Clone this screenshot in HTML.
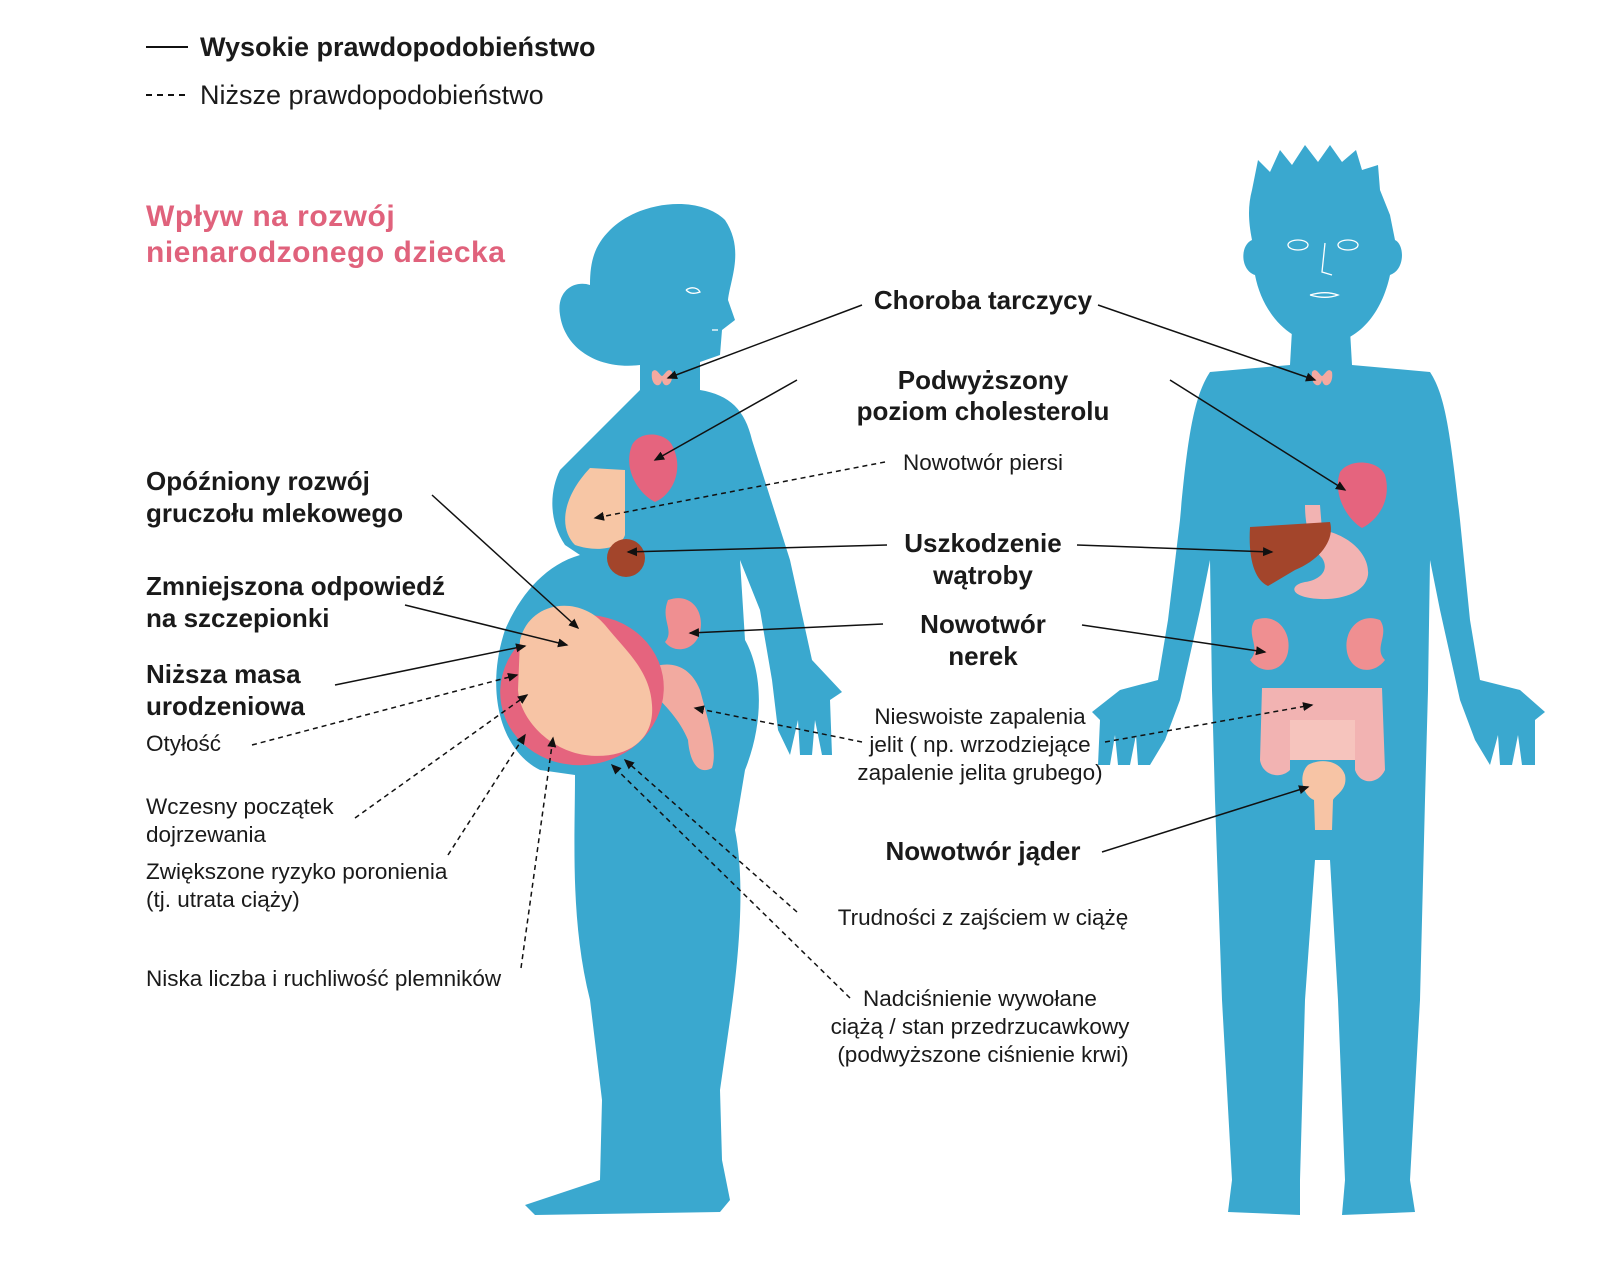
<!DOCTYPE html>
<html><head><meta charset="utf-8"><style>
html,body{margin:0;padding:0;background:#fff;}
svg{display:block;font-family:"Liberation Sans",sans-serif;}
.b{font-weight:bold;font-size:26px;fill:#1a1a1a;}
.n{font-size:22.5px;fill:#1a1a1a;}
.s{stroke:#111;stroke-width:1.5;fill:none;}
.d{stroke:#111;stroke-width:1.5;fill:none;stroke-dasharray:5 4;}
</style></head><body>
<svg width="1600" height="1274" viewBox="0 0 1600 1274" xmlns="http://www.w3.org/2000/svg">
<defs><marker id="a" markerWidth="8" markerHeight="8" refX="6" refY="4" orient="auto"><path d="M0,1 L7,4 L0,7 z" fill="#111"/></marker></defs>
<line x1="146" y1="47" x2="188" y2="47" stroke="#111" stroke-width="2"/>
<text x="200" y="56" class="b" style="font-size:27px">Wysokie prawdopodobieństwo</text>
<line x1="146" y1="95" x2="188" y2="95" stroke="#111" stroke-width="2" stroke-dasharray="6 5"/>
<text x="200" y="104" class="n" style="font-size:27px">Niższe prawdopodobieństwo</text>
<text x="146" y="226" style="font-size:30px;font-weight:bold;fill:#e0627c;letter-spacing:0.5px">Wpływ na rozwój</text>
<text x="146" y="262" style="font-size:30px;font-weight:bold;fill:#e0627c;letter-spacing:0.5px">nienarodzonego dziecka</text>

<g fill="#3aa8cf">
<path d="M610,230 C640,200 700,195 725,220 C745,250 730,280 728,300 L735,320 L722,330 L720,355 L700,362 L700,395 L640,395 L640,365 C600,370 565,350 560,315 C556,290 575,280 590,285 C590,260 595,245 610,230 Z"/>
<path d="M640,390 L700,390 C730,395 745,410 752,440 L790,560 L812,660 L842,692 L830,700 L832,755 L822,755 L815,720 L812,755 L800,755 L798,720 L790,755 L778,730 L772,680 L760,610 L740,560 L745,640 C762,670 765,720 745,770 L735,830 C745,880 740,950 730,1020 L720,1090 L722,1160 L730,1200 L720,1212 L535,1215 L525,1205 L600,1180 L602,1100 L590,1000 C570,920 575,840 575,775 L540,770 C500,750 485,690 505,630 C520,595 545,565 580,555 L565,545 C548,520 550,490 560,470 L600,430 Z"/>
</g>
<path d="M590,468 L625,470 L625,535 C620,550 595,552 575,545 C560,530 560,500 590,468 Z" fill="#f7c6a5"/>
<path d="M652,372 C650,385 660,390 662,380 C664,390 674,385 672,372 C668,366 664,376 662,376 C660,376 656,366 652,372Z" fill="#f4a9a0"/>
<path d="M632,445 C640,430 665,432 672,445 C685,470 672,495 655,502 C640,495 622,470 632,445Z" fill="#e5647e"/>
<circle cx="626" cy="558" r="19" fill="#a3452b"/>
<path d="M668,600 C690,592 705,610 700,632 C696,650 675,655 665,642 C675,630 660,620 668,600Z" fill="#ef8f91"/>
<path d="M650,668 C670,660 690,665 700,690 C708,720 718,750 712,768 C700,775 690,765 688,740 C680,720 665,705 650,690 Z" fill="#f2aaa0"/>
<ellipse cx="582" cy="690" rx="82" ry="75" transform="rotate(-10 582 690)" fill="#e5647e"/>
<path d="M520,640 C530,600 580,595 605,625 C625,650 650,670 652,705 C655,745 620,760 585,755 C550,750 520,720 518,690 Z" fill="#f7c4a5"/>
<circle cx="588" cy="622" r="9" fill="#f7c4a5"/>

<g fill="#3aa8cf">
<path d="M1252,190 L1258,160 L1270,172 L1280,150 L1292,165 L1305,145 L1318,162 L1330,145 L1342,162 L1356,150 L1362,170 L1378,165 L1380,190 L1390,215 L1395,240 C1405,245 1405,270 1390,275 C1382,312 1360,342 1323,345 C1288,342 1262,312 1255,275 C1240,270 1240,245 1252,240 C1248,220 1248,205 1252,190 Z"/>
<path d="M1292,330 L1350,330 L1352,365 L1430,372 C1445,395 1450,430 1460,520 L1470,620 L1480,680 L1520,690 L1545,712 L1535,720 L1535,765 L1522,765 L1518,735 L1512,765 L1500,765 L1498,735 L1490,765 L1475,740 L1460,700 L1440,610 L1430,560 L1428,690 L1425,800 L1420,1000 L1410,1180 L1415,1212 L1342,1215 L1345,1180 L1338,1000 L1330,860 L1315,860 L1305,1000 L1300,1180 L1300,1215 L1228,1212 L1232,1180 L1222,1000 L1215,800 L1212,690 L1210,560 L1200,610 L1180,700 L1165,740 L1150,765 L1138,765 L1136,735 L1130,765 L1118,765 L1115,735 L1110,765 L1098,765 L1100,720 L1092,712 L1120,690 L1158,680 L1168,620 L1180,520 C1188,430 1195,395 1210,372 L1290,365 Z"/>
</g>
<g stroke="#fff" stroke-width="1.3" fill="none">
<ellipse cx="1298" cy="245" rx="10" ry="5"/><ellipse cx="1348" cy="245" rx="10" ry="5"/>
<path d="M1325,243 L1322,272 L1332,275"/><path d="M1310,295 C1320,292 1330,292 1338,295 C1330,298 1320,298 1310,295"/>
<path d="M686,290 C692,286 698,288 700,292 C694,294 690,294 686,290"/><path d="M712,330 L718,330"/>
</g>
<path d="M1312,372 C1310,385 1320,390 1322,380 C1324,390 1334,385 1332,372 C1328,366 1324,376 1322,376 C1320,376 1316,366 1312,372Z" fill="#f4a9a0"/>
<path d="M1340,472 C1350,458 1378,460 1385,475 C1392,500 1378,520 1362,528 C1348,520 1332,495 1340,472Z" fill="#e5647e"/>
<path d="M1305,505 L1320,505 L1322,530 C1350,535 1370,555 1368,575 C1365,595 1335,602 1310,598 C1290,595 1290,585 1305,582 C1320,580 1330,570 1322,558 C1312,548 1305,530 1305,505Z" fill="#f2b3b2"/>
<path d="M1250,527 L1330,522 C1335,540 1320,560 1295,570 L1268,586 C1255,580 1248,560 1250,527Z" fill="#a3452b"/>
<path d="M1255,620 C1275,612 1292,630 1288,652 C1284,672 1262,676 1250,660 C1262,648 1245,635 1255,620Z" fill="#ef8f91"/>
<path d="M1380,620 C1360,612 1343,630 1347,652 C1351,672 1373,676 1385,660 C1373,648 1390,635 1380,620Z" fill="#ef8f91"/>
<path d="M1262,688 L1382,688 L1385,770 C1378,785 1360,785 1355,770 L1355,720 L1290,720 L1290,770 C1280,780 1262,775 1260,760 Z" fill="#f2b3b2"/>
<path d="M1290,720 L1355,720 L1355,760 L1290,760Z" fill="#f6c4bd"/>
<path d="M1308,765 C1320,758 1340,760 1345,775 C1348,790 1335,795 1333,800 L1332,830 L1315,830 L1314,800 C1302,795 1298,775 1308,765Z" fill="#f7c4a5"/>

<line x1="862" y1="305" x2="668" y2="378" class="s" marker-end="url(#a)"/>
<line x1="1098" y1="305" x2="1315" y2="380" class="s" marker-end="url(#a)"/>
<line x1="797" y1="380" x2="655" y2="460" class="s" marker-end="url(#a)"/>
<line x1="1170" y1="380" x2="1345" y2="490" class="s" marker-end="url(#a)"/>
<line x1="885" y1="462" x2="595" y2="518" class="d" marker-end="url(#a)"/>
<line x1="887" y1="545" x2="628" y2="552" class="s" marker-end="url(#a)"/>
<line x1="1077" y1="545" x2="1272" y2="552" class="s" marker-end="url(#a)"/>
<line x1="883" y1="624" x2="690" y2="633" class="s" marker-end="url(#a)"/>
<line x1="1082" y1="625" x2="1265" y2="652" class="s" marker-end="url(#a)"/>
<line x1="862" y1="742" x2="695" y2="708" class="d" marker-end="url(#a)"/>
<line x1="1105" y1="742" x2="1312" y2="705" class="d" marker-end="url(#a)"/>
<line x1="1102" y1="852" x2="1308" y2="787" class="s" marker-end="url(#a)"/>
<line x1="797" y1="912" x2="625" y2="760" class="d" marker-end="url(#a)"/>
<line x1="850" y1="998" x2="612" y2="765" class="d" marker-end="url(#a)"/>
<line x1="432" y1="495" x2="578" y2="628" class="s" marker-end="url(#a)"/>
<line x1="405" y1="605" x2="567" y2="645" class="s" marker-end="url(#a)"/>
<line x1="335" y1="685" x2="525" y2="646" class="s" marker-end="url(#a)"/>
<line x1="252" y1="745" x2="517" y2="675" class="d" marker-end="url(#a)"/>
<line x1="355" y1="818" x2="527" y2="695" class="d" marker-end="url(#a)"/>
<line x1="448" y1="855" x2="525" y2="735" class="d" marker-end="url(#a)"/>
<line x1="521" y1="968" x2="553" y2="738" class="d" marker-end="url(#a)"/>

<g text-anchor="middle">
<text x="983" y="309" class="b">Choroba tarczycy</text>
<text x="983" y="389" class="b">Podwyższony</text>
<text x="983" y="420" class="b">poziom cholesterolu</text>
<text x="983" y="470" class="n">Nowotwór piersi</text>
<text x="983" y="552" class="b">Uszkodzenie</text>
<text x="983" y="584" class="b">wątroby</text>
<text x="983" y="633" class="b">Nowotwór</text>
<text x="983" y="665" class="b">nerek</text>
<text x="980" y="724" class="n">Nieswoiste zapalenia</text>
<text x="980" y="752" class="n">jelit ( np. wrzodziejące</text>
<text x="980" y="780" class="n">zapalenie jelita grubego)</text>
<text x="983" y="860" class="b">Nowotwór jąder</text>
<text x="983" y="925" class="n">Trudności z zajściem w ciążę</text>
<text x="980" y="1006" class="n">Nadciśnienie wywołane</text>
<text x="980" y="1034" class="n">ciążą / stan przedrzucawkowy</text>
<text x="983" y="1062" class="n">(podwyższone ciśnienie krwi)</text>
</g>
<text x="146" y="490" class="b">Opóźniony rozwój</text>
<text x="146" y="522" class="b">gruczołu mlekowego</text>
<text x="146" y="595" class="b">Zmniejszona odpowiedź</text>
<text x="146" y="627" class="b">na szczepionki</text>
<text x="146" y="683" class="b">Niższa masa</text>
<text x="146" y="715" class="b">urodzeniowa</text>
<text x="146" y="751" class="n">Otyłość</text>
<text x="146" y="814" class="n">Wczesny początek</text>
<text x="146" y="842" class="n">dojrzewania</text>
<text x="146" y="879" class="n">Zwiększone ryzyko poronienia</text>
<text x="146" y="907" class="n">(tj. utrata ciąży)</text>
<text x="146" y="986" class="n">Niska liczba i ruchliwość plemników</text>
</svg>
</body></html>
